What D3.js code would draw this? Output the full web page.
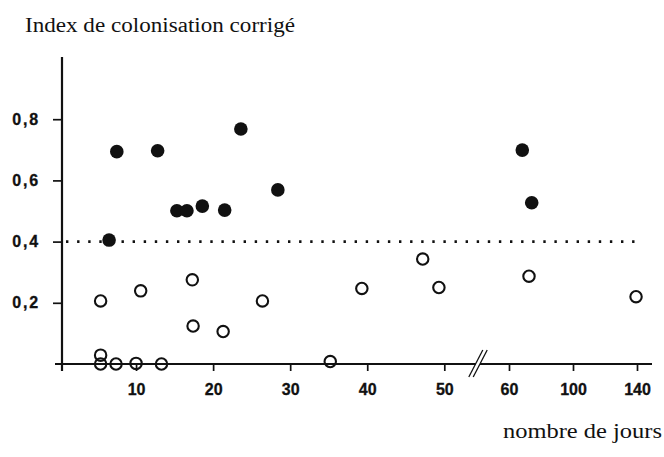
<!DOCTYPE html>
<head>
    <script src="https://d3js.org/d3.v7.min.js"></script>
    <style>
        body { margin: 0; background: #fff; }
    </style>
</head>
<body>
    <svg></svg>
</body>

<script>
    // Data: days and corrected colonisation index
    var filledDays = [6.5, 7.5, 12.8, 15.3, 16.6, 18.6, 21.5, 23.6, 28.4, 68.3, 74.2];
    var filledIndex = [0.405, 0.694, 0.697, 0.501, 0.501, 0.516, 0.503, 0.768, 0.569, 0.699, 0.527];

    var openDays = [5.4, 5.4, 5.4, 7.4, 10.0, 10.6, 13.3, 17.3, 17.4, 21.3, 26.4, 35.2, 39.3, 47.2, 49.3, 72.5, 139.4];
    var openIndex = [0.206, 0.029, 0, 0, 0.002, 0.239, 0, 0.275, 0.124, 0.106, 0.206, 0.008, 0.247, 0.343, 0.25, 0.287, 0.22];

    var xTicks = [10, 20, 30, 40, 50, 60, 100, 140];
    var yTicks = [0.2, 0.4, 0.6, 0.8];
    var threshold = 0.4;

    // Variables
    var width = 664;
    var height = 457;
    var tickFont = '"Liberation Sans", Arial, sans-serif';
    var labelFont = '"Liberation Serif", "Times New Roman", serif';

    var svg = d3.select('svg')
        .attr('width', width)
        .attr('height', height);

    // broken x scale: linear up to 50, compressed after the break
    var x = d3.scaleLinear()
        .domain([0, 50, 60, 140])
        .range([59, 444.3, 509, 637]);

    var y = d3.scaleLinear()
        .domain([0, 1])
        .range([364, 58]);

    // Axes
    var xAxis = svg.append('g')
        .attr('transform', 'translate(0,' + y(0) + ')')
        .call(d3.axisBottom(x).tickValues(xTicks).tickSize(7).tickPadding(13)
            .tickFormat(d3.format('d')));
    xAxis.select('.domain').remove();

    var yAxis = svg.append('g')
        .attr('transform', 'translate(62,0)')
        .call(d3.axisLeft(y).tickValues(yTicks).tickSize(9).tickPadding(13)
            .tickFormat(function (d) { return d3.format('.1f')(d).replace('.', ','); }));
    yAxis.select('.domain').remove();
    yAxis.selectAll('.tick text').style('letter-spacing', '1.8px');

    svg.selectAll('.tick line').attr('stroke', '#111').attr('stroke-width', 1.7);
    svg.selectAll('.tick text')
        .style('font-family', tickFont)
        .style('font-weight', 'bold')
        .style('font-size', '16px')
        .style('fill', '#111')
        .style('stroke', '#111')
        .style('stroke-width', '0.3px');

    // axis lines
    svg.append('line')
        .attr('x1', 62).attr('x2', 62)
        .attr('y1', 57).attr('y2', 371)
        .attr('stroke', '#111').attr('stroke-width', 2.2);
    svg.append('line')
        .attr('x1', 55).attr('x2', 652)
        .attr('y1', y(0)).attr('y2', y(0))
        .attr('stroke', '#111').attr('stroke-width', 2.2);

    // break marks
    var brk = svg.append('g').attr('transform', 'translate(478,' + y(0) + ')');
    brk.append('rect').attr('x', -2).attr('y', -2).attr('width', 4).attr('height', 4).attr('fill', '#fff');
    [-2.2, 2.2].forEach(function (dx) {
        brk.append('line')
            .attr('x1', dx - 7).attr('y1', 13)
            .attr('x2', dx + 7).attr('y2', -14)
            .attr('stroke', '#111').attr('stroke-width', 1.3);
    });

    // dotted threshold line
    svg.append('line')
        .attr('x1', 66).attr('x2', 637)
        .attr('y1', y(threshold)).attr('y2', y(threshold))
        .attr('stroke', '#111').attr('stroke-width', 2.6)
        .attr('stroke-dasharray', '2.4,8.7');

    // points
    svg.append('g').selectAll('circle')
        .data(openDays)
        .enter().append('circle')
        .attr('cx', function (d) { return x(d); })
        .attr('cy', function (d, i) { return y(openIndex[i]); })
        .attr('r', 5.7)
        .attr('fill', 'none')
        .attr('stroke', '#111')
        .attr('stroke-width', 2.1);

    svg.append('g').selectAll('circle')
        .data(filledDays)
        .enter().append('circle')
        .attr('cx', function (d) { return x(d); })
        .attr('cy', function (d, i) { return y(filledIndex[i]); })
        .attr('r', 6.8)
        .attr('fill', '#111');

    // labels
    svg.append('text')
        .attr('x', 25).attr('y', 32)
        .style('font-family', labelFont).style('font-size', '20px').style('fill', '#111')
        .attr('textLength', 270).attr('lengthAdjust', 'spacingAndGlyphs')
        .text('Index de colonisation corrigé');

    svg.append('text')
        .attr('x', 503).attr('y', 438)
        .style('font-family', labelFont).style('font-size', '20px').style('fill', '#111')
        .attr('textLength', 159).attr('lengthAdjust', 'spacingAndGlyphs')
        .text('nombre de jours');
</script>
